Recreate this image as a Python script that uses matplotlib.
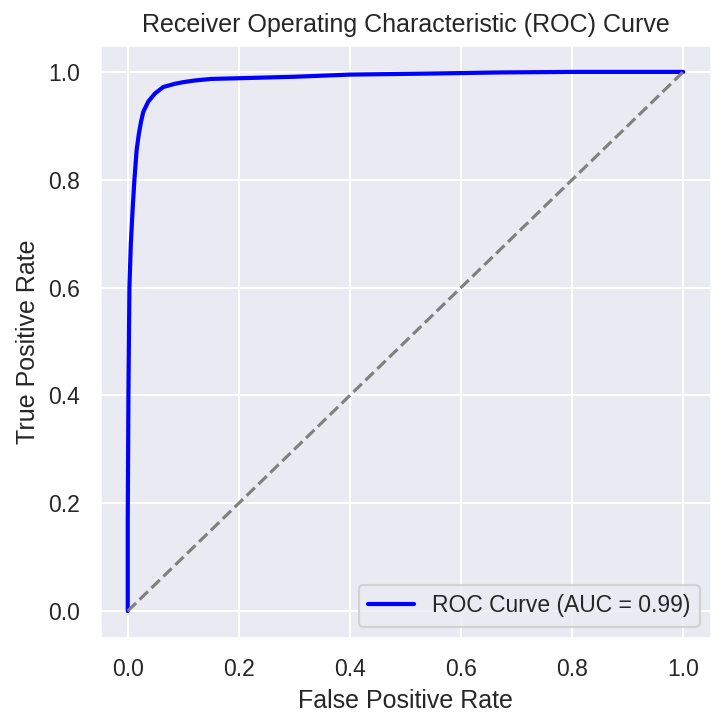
import numpy as np
import matplotlib.pyplot as plt
import seaborn as sns

# ROC points
fpr = [0.0, 0.0, 0.0012, 0.003, 0.0055, 0.0085, 0.012, 0.016, 0.020, 0.024, 0.028,
       0.037, 0.049, 0.064, 0.085, 0.10, 0.12, 0.15, 0.19, 0.30, 0.40, 0.55,
       0.67, 0.80, 1.0]
tpr = [0.0, 0.165, 0.40, 0.60, 0.68, 0.74, 0.80, 0.855, 0.885, 0.908, 0.926,
       0.945, 0.960, 0.972, 0.978, 0.981, 0.984, 0.987, 0.988, 0.991, 0.995, 0.997,
       0.999, 1.0, 1.0]
auc = 0.99

sns.set_theme(style="darkgrid")
plt.rcParams['font.family'] = ['Liberation Sans', 'DejaVu Sans']

fig = plt.figure(figsize=(726/150, 725/150), dpi=150)
ax = fig.add_axes([0.1377, 0.12, 0.8416, 0.8180])
ax.plot(fpr, tpr, color="blue", lw=2, label="ROC Curve (AUC = {:.2f})".format(auc))
ax.plot([0, 1], [0, 1], color="gray", linestyle="--")
ax.set_xlabel("False Positive Rate")
ax.set_ylabel("True Positive Rate")
ax.set_title("Receiver Operating Characteristic (ROC) Curve")
ax.legend(loc="lower right")
fig.savefig("out.png", dpi=150)
